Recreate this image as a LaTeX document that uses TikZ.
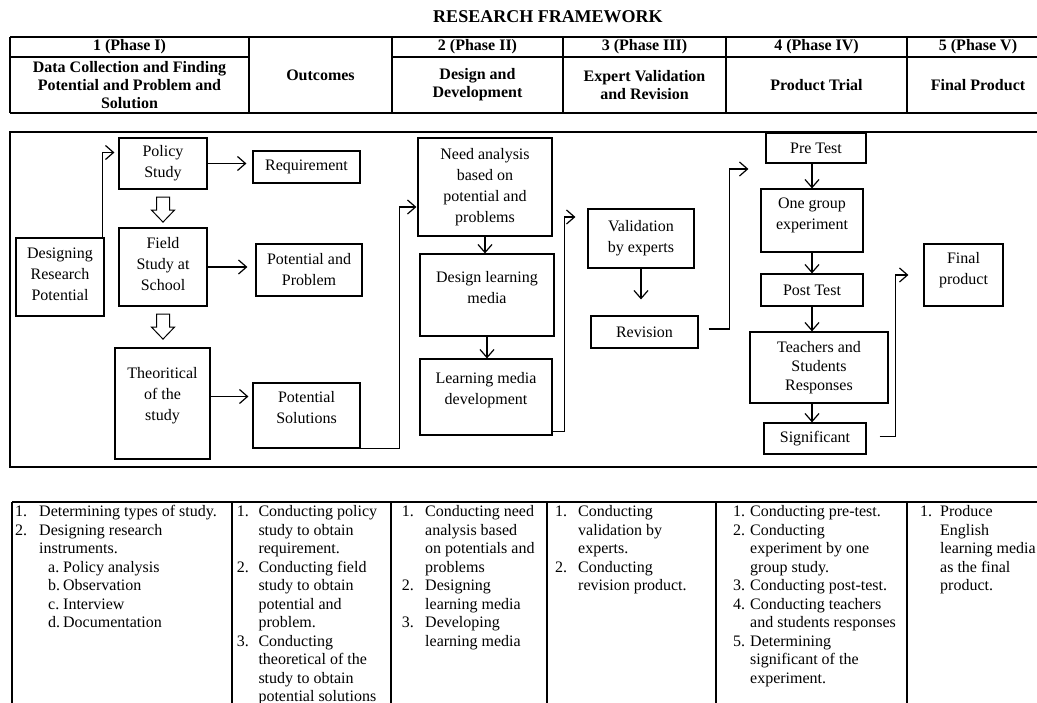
\documentclass[tikz,border=0pt]{standalone}
\usepackage{fontspec}
\setmainfont{Liberation Serif}
\usetikzlibrary{arrows.meta,calc}

\tikzset{
  line/.style={line width=1.2pt},
  box/.style={draw, line width=1.2pt, align=center, inner sep=2pt, font=\fontsize{16}{21}\selectfont},
  wh/.style 2 args={minimum width=#1pt, minimum height=#2pt},
  hd/.style={align=center, inner sep=0pt, font=\fontsize{16}{18}\selectfont\bfseries},
  every label/.style={align=center, inner sep=0pt, font=\fontsize{16}{21}\selectfont},
  hollow/.style={draw, line width=1pt, fill=white},
  list/.style={anchor=north west, inner sep=0pt, font=\fontsize{16}{18.5}\selectfont}
}

\begin{document}
\begin{tikzpicture}[x=1pt, y=-1pt, >={Straight Barb[length=8pt,width=14pt]}]
    \useasboundingbox (0,0) rectangle (1037,703);

    % title and header table
    \node[font=\fontsize{18}{20}\selectfont\bfseries] (title) at (548,17) {RESEARCH FRAMEWORK};
    \draw[line] (10,37) -- (1037,37);
    \draw[line] (10,57) -- (249,57);
    \draw[line] (392,57) -- (1037,57);
    \draw[line] (10,113) -- (1037,113);
    \foreach \x in {10,249,392,563,726,907}
        \draw[line] (\x,37) -- (\x,113);

    \node[hd] (ph1) at (129.5,47) {1 (Phase I)};
    \node[hd] (ph2) at (477.5,47) {2 (Phase II)};
    \node[hd] (ph3) at (644.5,47) {3 (Phase III)};
    \node[hd] (ph4) at (816.5,47) {4 (Phase IV)};
    \node[hd] (ph5) at (978,47) {5 (Phase V)};
    \node[hd] (hd1) at (129.5,85) {Data Collection and Finding\\Potential and Problem and\\Solution};
    \node[hd] (hdo) at (320.5,75) {Outcomes};
    \node[hd] (hd2) at (477.5,85) {Design and\\Development};
    \node[hd] (hd3) at (644.5,85) {Expert Validation\\and Revision};
    \node[hd] (hd4) at (816.5,85) {Product Trial};
    \node[hd] (hd5) at (978,85) {Final Product};

    % frame of the flow
    \draw[line] (1037,132) -- (10,132) -- (10,467) -- (1037,467);

    % phase I and outcomes
    \node[box, wh={88}{78}, label={[yshift=3pt]center:{Designing\\Research\\Potential}}] (drp) at (60,277) {};
    \node[box, wh={88}{51}] (policy) at (163,163.5) {Policy\\Study};
    \node[box, wh={107}{32}] (req) at (306.5,167) {Requirement};
    \node[box, wh={88}{78}, label={[yshift=3pt]center:{Field\\Study at\\School}}] (field) at (163,267) {};
    \node[box, wh={106}{52}] (pp) at (309,270) {Potential and\\Problem};
    \node[box, wh={95}{111}, label={[yshift=7.5pt]center:{Theoritical\\of the\\study}}] (theory) at (162.5,403.5) {};
    \node[box, wh={107}{65}, label={[yshift=7.5pt]center:{Potential\\Solutions}}] (ps) at (306.5,415.5) {};

    % phase II
    \node[box, wh={134}{98}] (need) at (485,187) {Need analysis\\based on\\potential and\\problems};
    \node[box, wh={134}{82}, label={[yshift=7pt]center:{Design learning\\media}}] (design) at (487,295) {};
    \node[box, wh={132}{76}, label={[yshift=7pt]center:{Learning media\\development}}] (lmd) at (486,397) {};

    % phase III
    \node[box, wh={106}{59}] (valid) at (641,238.5) {Validation\\by experts};
    \node[box, wh={107}{32}] (rev) at (644.5,332) {Revision};

    % phase IV
    \node[box, wh={100}{30}] (pre) at (816,148) {Pre Test};
    \node[box, wh={102}{63}, label={[yshift=5pt]center:{One group\\experiment}}] (one) at (812,220.5) {};
    \node[box, wh={102}{32}] (post) at (812,290) {Post Test};
    \node[box, wh={138}{71}, font=\fontsize{16}{19}\selectfont] (resp) at (819,367.5) {Teachers and\\Students\\Responses};
    \node[box, wh={102}{31}] (sig) at (815,438.5) {Significant};

    % phase V
    \node[box, wh={79}{62}, label={[yshift=4.5pt]center:{Final\\product}}] (final) at (963.5,275) {};

    % connectors
    \draw[->,line] ([xshift=-2pt]drp.north east) |- ([xshift=-4pt,yshift=11pt]policy.west);
    \draw[->,line,shorten >=6pt] (policy.east) -- (policy.east -| req.west);
    \draw[->,line,shorten >=8pt] (field.east) -- (field.east -| pp.west);
    \coordinate (thy) at ([yshift=7pt]theory.east);
    \draw[->,line,shorten >=4pt] (thy) -- (thy -| ps.west);
    \foreach \n in {policy,field}
        \draw[hollow] ($(\n.south)+(-6.5,7.5)$) -- ++(0,13) -- ++(-5,0) -- ++(11.5,12)
            -- ++(11.5,-12) -- ++(-5,0) -- ++(0,-13) -- cycle;

    \draw[->,line] ([xshift=-20pt]ps.south east) -- ++(59,0) |- ([xshift=-1pt,yshift=-20pt]need.west);
    \draw[->,line] (need.south) -- (need.south |- design.north);
    \draw[->,line] (design.south) -- (design.south |- lmd.north);
    \draw[->,line] ([yshift=4pt]lmd.south east) -- ++(12,0) |- ([xshift=-12pt,yshift=21.5pt]valid.west);

    \draw[->,line,shorten >=16pt] (valid.south) -- (valid.south |- rev.north);
    \draw[->,line] ([xshift=10pt,yshift=3pt]rev.east) -- ++(21,0) |- ([xshift=-17pt,yshift=-21pt]pre.west);

    \foreach \a/\b in {pre/one,one/post,post/resp,resp/sig}
        \draw[->,line] (\a.south -| one) -- (\b.north -| one);
    \draw[->,line] ([xshift=13pt,yshift=2pt]sig.east) -- ++(16,0) |- ([xshift=-15pt]final.west);

    % activity table
    \draw[line] (1037,502) -- (12,502);
    \foreach \x in {12,232,391,547,716,907}
        \draw[line] (\x,502) -- (\x,703);

    \node[list] (act1) at (15,503.5) {\begin{tabular}{@{}p{24pt}@{}l@{}}
        1. & Determining types of study.\\
        2. & Designing research\\
           & instruments.\\
           & \hspace{9pt}\makebox[15pt][l]{a.}Policy analysis\\
           & \hspace{9pt}\makebox[15pt][l]{b.}Observation\\
           & \hspace{9pt}\makebox[15pt][l]{c.}Interview\\
           & \hspace{9pt}\makebox[15pt][l]{d.}Documentation
        \end{tabular}};
    \node[list] (act2) at (236.7,503.5) {\begin{tabular}{@{}p{21.6pt}@{}l@{}}
        1. & Conducting policy\\
           & study to obtain\\
           & requirement.\\
        2. & Conducting field\\
           & study to obtain\\
           & potential and\\
           & problem.\\
        3. & Conducting\\
           & theoretical of the\\
           & study to obtain\\
           & potential solutions
        \end{tabular}};
    \node[list] (act3) at (401.7,503.5) {\begin{tabular}{@{}p{23.3pt}@{}l@{}}
        1. & Conducting need\\
           & analysis based\\
           & on potentials and\\
           & problems\\
        2. & Designing\\
           & learning media\\
        3. & Developing\\
           & learning media
        \end{tabular}};
    \node[list] (act4) at (554.8,503.5) {\begin{tabular}{@{}p{23.2pt}@{}l@{}}
        1. & Conducting\\
           & validation by\\
           & experts.\\
        2. & Conducting\\
           & revision product.
        \end{tabular}};
    \node[list] (act5) at (733,503.5) {\begin{tabular}{@{}p{17pt}@{}l@{}}
        1. & Conducting pre-test.\\
        2. & Conducting\\
           & experiment by one\\
           & group study.\\
        3. & Conducting post-test.\\
        4. & Conducting teachers\\
           & and students responses\\
        5. & Determining\\
           & significant of the\\
           & experiment.
        \end{tabular}};
    \node[list] (act6) at (920,503.5) {\begin{tabular}{@{}p{20pt}@{}l@{}}
        1. & Produce\\
           & English\\
           & learning media\\
           & as the final\\
           & product.
        \end{tabular}};
\end{tikzpicture}
\end{document}
